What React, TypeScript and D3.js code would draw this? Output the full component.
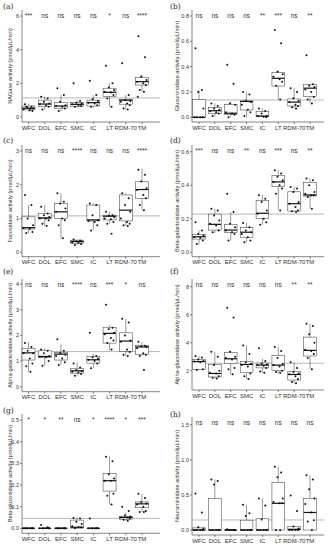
import React from 'react';
import * as d3 from 'd3';

const cats = ['WFC', 'DOL', 'EFC', 'SMC', 'IC', 'LT', 'RDM-70', 'TM'];

// box stats per category: [lowWhisker, q1, median, q3, highWhisker]
const nagaseBox = [[0.32, 0.42, 0.52, 0.65, 0.8], [0.42, 0.61, 0.77, 1.0, 1.2], [0.32, 0.52, 0.65, 0.87, 1.3], [0.55, 0.61, 0.75, 0.87, 1.0], [0.55, 0.65, 0.85, 1.0, 1.3], [0.61, 1.21, 1.47, 1.71, 2.0], [0.42, 0.76, 1.0, 1.05, 1.3], [1.5, 1.9, 2.1, 2.36, 2.5]];
const nagasePts = [[0.75, 0.6, 0.55, 0.5, 0.45, 0.4, 0.35, 0.6, 0.5], [1.2, 1.1, 0.9, 0.8, 0.75, 0.7, 0.6, 0.45], [1.7, 1.3, 0.9, 0.7, 0.65, 0.6, 0.5, 0.35], [2.0, 0.95, 0.85, 0.8, 0.75, 0.7, 0.65, 0.6], [2.15, 1.3, 1.05, 0.95, 0.85, 0.8, 0.7, 0.6], [3.05, 2.0, 1.75, 1.6, 1.5, 1.45, 1.3, 1.1, 0.6], [3.2, 1.3, 1.0, 0.95, 0.9, 0.8, 0.7, 0.5, 0.45], [4.8, 3.55, 2.4, 2.2, 2.1, 2.0, 1.9, 1.6, 1.5, 1.2]];
const nagaseSig = ['***', 'ns', 'ns', 'ns', 'ns', '*', 'ns', '****'];

const glucBox = [[0, 0, 0, 0.14, 0.215], [0.005, 0.032, 0.052, 0.079, 0.11], [0, 0.024, 0.032, 0.103, 0.125], [0, 0.058, 0.125, 0.129, 0.2], [0, 0.005, 0.01, 0.044, 0.07], [0.137, 0.247, 0.308, 0.352, 0.37], [0.07, 0.089, 0.12, 0.145, 0.23], [0.11, 0.163, 0.23, 0.26, 0.265]];
const glucPts = [[0.545, 0.215, 0.2, 0.07, 0, 0, 0, 0], [0.11, 0.09, 0.07, 0.06, 0.05, 0.04, 0.03, 0.01], [0.415, 0.265, 0.11, 0.1, 0.04, 0.03, 0.02, 0], [0.2, 0.18, 0.13, 0.12, 0.1, 0.06, 0.04, 0.01], [0.07, 0.05, 0.03, 0.01, 0.01, 0.005, 0], [0.69, 0.585, 0.36, 0.34, 0.32, 0.3, 0.28, 0.25, 0.14], [0.23, 0.2, 0.15, 0.13, 0.12, 0.1, 0.09, 0.08, 0.07], [0.49, 0.26, 0.25, 0.24, 0.22, 0.2, 0.16, 0.14, 0.11]];
const glucSig = ['ns', 'ns', 'ns', 'ns', '**', '***', 'ns', '**'];

const fucBox = [[0.56, 0.69, 0.73, 1.05, 1.4], [0.78, 1.0, 1.02, 1.15, 1.4], [0.41, 1.0, 1.2, 1.45, 1.75], [0.22, 0.27, 0.32, 0.36, 0.38], [0.66, 0.93, 0.96, 1.4, 1.45], [0.85, 0.96, 1.07, 1.1, 1.2], [0.78, 0.93, 1.25, 1.7, 1.75], [1.25, 1.6, 1.86, 2.09, 2.48]];
const fucPts = [[1.7, 1.4, 1.0, 0.8, 0.72, 0.7, 0.6, 0.57], [1.35, 1.15, 1.1, 1.05, 1.0, 1.0, 0.95, 0.85, 0.78], [1.75, 1.5, 1.45, 1.3, 1.2, 1.0, 0.95, 0.8, 0.42], [0.38, 0.35, 0.33, 0.32, 0.3, 0.28, 0.25, 0.22], [1.45, 1.4, 1.1, 0.95, 0.93, 0.9, 0.8, 0.65], [1.2, 1.1, 1.08, 1.05, 1.0, 0.98, 0.9, 0.85, 0.55], [1.75, 1.6, 1.4, 1.2, 1.0, 0.9, 0.85, 0.8, 0.78], [2.45, 2.3, 2.1, 1.9, 1.85, 1.7, 1.6, 1.4, 1.25]];
const fucSig = ['ns', 'ns', 'ns', '****', 'ns', 'ns', 'ns', '****'];

const bgalBox = [[0.045, 0.079, 0.093, 0.107, 0.13], [0.115, 0.133, 0.167, 0.228, 0.26], [0.07, 0.117, 0.133, 0.167, 0.24], [0.06, 0.09, 0.12, 0.147, 0.175], [0.165, 0.203, 0.233, 0.308, 0.342], [0.252, 0.391, 0.42, 0.457, 0.49], [0.24, 0.246, 0.29, 0.361, 0.39], [0.26, 0.336, 0.342, 0.417, 0.44]];
const bgalPts = [[0.18, 0.13, 0.11, 0.1, 0.09, 0.085, 0.07, 0.05], [0.26, 0.25, 0.22, 0.19, 0.17, 0.16, 0.13, 0.12], [0.35, 0.24, 0.17, 0.15, 0.13, 0.12, 0.11, 0.07], [0.175, 0.15, 0.13, 0.12, 0.11, 0.09, 0.07, 0.06], [0.34, 0.32, 0.3, 0.25, 0.23, 0.2, 0.18, 0.165], [0.49, 0.47, 0.45, 0.43, 0.42, 0.4, 0.38, 0.35, 0.25], [0.39, 0.38, 0.36, 0.3, 0.29, 0.27, 0.25, 0.245, 0.24], [0.44, 0.43, 0.4, 0.36, 0.35, 0.34, 0.34, 0.33, 0.26]];
const bgalSig = ['***', 'ns', 'ns', '**', 'ns', '***', 'ns', '**'];

const agalBox = [[0.58, 1.04, 1.32, 1.5, 1.75], [0.82, 1.13, 1.18, 1.4, 1.5], [0.85, 1.04, 1.27, 1.33, 1.65], [0.43, 0.53, 0.62, 0.72, 0.95], [0.72, 0.92, 1.05, 1.17, 1.27], [1.42, 1.7, 2.08, 2.32, 2.4], [1.2, 1.38, 1.78, 2.1, 2.65], [1.2, 1.25, 1.55, 1.6, 1.75]];
const agalPts = [[1.7, 1.55, 1.4, 1.3, 1.3, 1.1, 0.9, 0.8, 0.58], [1.45, 1.4, 1.3, 1.2, 1.17, 1.15, 1.0, 0.82], [1.85, 1.4, 1.3, 1.25, 1.2, 1.1, 0.95, 0.85], [0.9, 0.75, 0.65, 0.6, 0.58, 0.55, 0.5, 0.43], [2.1, 1.2, 1.15, 1.1, 1.05, 1.0, 0.9, 0.72], [3.2, 2.3, 2.25, 2.1, 2.05, 1.9, 1.8, 1.7, 1.45], [2.65, 2.5, 2.0, 1.8, 1.75, 1.45, 1.35, 1.25, 1.2], [1.75, 1.6, 1.58, 1.55, 1.5, 1.3, 1.25, 1.2, 0.65]];
const agalSig = ['ns', 'ns', 'ns', '****', 'ns', '***', '*', 'ns'];

const aglucBox = [[2.05, 2.1, 2.65, 2.8, 3.05], [1.45, 1.55, 1.8, 2.45, 3.35], [1.7, 2.5, 2.85, 3.3, 3.4], [1.4, 1.86, 2.45, 2.67, 3.8], [1.85, 2.2, 2.4, 2.55, 2.85], [1.8, 2.0, 2.4, 3.1, 3.7], [1.1, 1.33, 1.73, 1.95, 2.6], [2.1, 3.05, 3.45, 4.4, 5.35]];
const aglucPts = [[3.05, 2.95, 2.8, 2.7, 2.65, 2.6, 2.1, 2.05], [3.35, 3.0, 2.4, 2.0, 1.85, 1.8, 1.6, 1.5, 1.45], [6.5, 5.8, 3.35, 3.0, 2.9, 2.8, 2.2, 2.1, 1.75], [3.8, 3.2, 2.6, 2.5, 2.4, 2.3, 1.8, 1.6, 1.4], [3.6, 2.7, 2.5, 2.45, 2.4, 2.35, 2.2, 1.95, 1.85], [3.7, 3.4, 2.9, 2.5, 2.4, 2.3, 2.0, 1.9, 1.85], [2.6, 2.2, 1.9, 1.8, 1.75, 1.6, 1.4, 1.2, 1.1], [5.35, 5.2, 4.6, 4.0, 3.5, 3.4, 3.2, 2.9, 2.1]];
const aglucSig = ['ns', 'ns', 'ns', 'ns', 'ns', 'ns', '**', '**'];

const bglucBox = [[0, 0, 0, 0, 0], [0, 0, 0, 0, 0], [0, 0, 0, 0, 0], [0, 0.001, 0.005, 0.038, 0.048], [0, 0, 0, 0, 0], [0.11, 0.172, 0.22, 0.253, 0.332], [0.035, 0.042, 0.05, 0.055, 0.07], [0.075, 0.095, 0.113, 0.122, 0.16]];
const bglucPts = [[0, 0, 0, 0, 0, 0, 0, 0], [0.015, 0.005, 0, 0, 0, 0, 0, 0], [0, 0, 0, 0, 0, 0, 0, 0], [0.048, 0.045, 0.03, 0.02, 0.01, 0.005, 0.005, 0], [0.045, 0, 0, 0, 0, 0, 0, 0], [0.33, 0.31, 0.25, 0.23, 0.22, 0.22, 0.16, 0.15, 0.11], [0.1, 0.08, 0.06, 0.055, 0.05, 0.05, 0.045, 0.04, 0.035], [0.16, 0.14, 0.12, 0.115, 0.11, 0.1, 0.08, 0.075, 0.075]];
const bglucSig = ['*', '*', '**', 'ns', '*', '****', '*', '***'];

const neuBox = [[0, 0, 0, 0.03, 0.05], [0, 0, 0, 0.45, 0.72], [0, 0, 0, 0, 0.01], [0, 0, 0, 0.14, 0.36], [0, 0, 0, 0.16, 0.45], [0, 0, 0.38, 0.68, 0.9], [0, 0, 0.01, 0.05, 0.06], [0, 0, 0.25, 0.45, 0.78]];
const neuPts = [[0.52, 0.25, 0.04, 0.02, 0, 0, 0, 0], [0.72, 0.7, 0.65, 0, 0, 0, 0, 0], [0.01, 0, 0, 0, 0, 0, 0, 0], [0.36, 0.24, 0.2, 0, 0, 0, 0, 0], [0.45, 0.35, 0.15, 0, 0, 0, 0, 0], [0.9, 0.82, 0.75, 0.45, 0.4, 0.38, 0.38, 0, 0], [0.49, 0.27, 0.05, 0.02, 0, 0, 0, 0], [0.78, 0.72, 0.58, 0.45, 0.37, 0.25, 0.14, 0.12, 0]];
const neuSig = ['ns', 'ns', 'ns', 'ns', 'ns', 'ns', 'ns', 'ns'];

// fixed jitter pattern (fraction of category step)
const jitter = [-0.22, 0.18, -0.05, 0.28, -0.3, 0.08, 0.24, -0.14, 0.12, -0.26];

const LEFT = { axisX: 22, x0: 28.5, x1: 142, right: 160, titleX: 12, labelX: 3 };
const RIGHT = { axisX: 192, x0: 199, x1: 310, right: 324, titleX: 179, labelX: 170 };

const panels = [
  { id: '(a)', col: LEFT, top: 10, bottom: 122, domain: [-0.3, 6.36], ticks: [0, 2, 4, 6], fmt: '0', hline: 1.13, title: 'NAGase activity (pmol/µL/min)', box: nagaseBox, pts: nagasePts, sig: nagaseSig, labelY: 9 },
  { id: '(b)', col: RIGHT, top: 10, bottom: 122, domain: [-0.037, 0.847], ticks: [0, 0.2, 0.4, 0.6, 0.8], fmt: '.1f', hline: 0.137, title: 'Glucuronidase activity (pmol/µL/min)', box: glucBox, pts: glucPts, sig: glucSig, labelY: 9 },
  { id: '(c)', col: LEFT, top: 145, bottom: 256.7, domain: [-0.13, 3.18], ticks: [0, 1, 2, 3], fmt: '0', hline: 1.08, title: 'Fucosidase activity (pmol/µL/min)', box: fucBox, pts: fucPts, sig: fucSig, labelY: 143 },
  { id: '(d)', col: RIGHT, top: 145, bottom: 256.7, domain: [-0.026, 0.64], ticks: [0, 0.2, 0.4, 0.6], fmt: '.1f', hline: 0.228, title: 'Beta-galactosidase activity (pmol/µL/min)', box: bgalBox, pts: bgalPts, sig: bgalSig, labelY: 143 },
  { id: '(e)', col: LEFT, top: 279, bottom: 391.7, domain: [-0.195, 4.2], ticks: [0, 1, 2, 3, 4], fmt: '0', hline: 1.37, title: 'Alpha-galactosidase activity (pmol/µL/min)', box: agalBox, pts: agalPts, sig: agalSig, labelY: 274 },
  { id: '(f)', col: RIGHT, top: 279, bottom: 390, domain: [0.62, 8.55], ticks: [2, 4, 6, 8], fmt: '0', hline: 2.53, title: 'Alpha-glucosidase activity (pmol/µL/min)', box: aglucBox, pts: aglucPts, sig: aglucSig, labelY: 274 },
  { id: '(g)', col: LEFT, top: 414, bottom: 533.3, domain: [-0.023, 0.528], ticks: [0, 0.1, 0.2, 0.3, 0.4, 0.5], fmt: '.1f', hline: 0.046, title: 'Beta-glucosidase activity (pmol/µL/min)', box: bglucBox, pts: bglucPts, sig: bglucSig, labelY: 413 },
  { id: '(h)', col: RIGHT, top: 417, bottom: 535, domain: [-0.071, 1.61], ticks: [0, 0.5, 1.0, 1.5], fmt: '.1f', hline: 0.143, title: 'Neuraminidase activity (pmol/µL/min)', box: neuBox, pts: neuPts, sig: neuSig, labelY: 417 },
];

const ink = '#333';

function Panel({ p }: { p: any }) {
  const c = p.col;
  const x = d3.scalePoint<string>().domain(cats).range([c.x0, c.x1]);
  const y = d3.scaleLinear().domain(p.domain).range([p.bottom, p.top]);
  const step = x.step();
  const bw = step * 0.8;
  const fmt = d3.format(p.fmt);
  const midY = (p.top + p.bottom) / 2;

  return (
    <g>
      <text x={c.labelX} y={p.labelY} fontSize={7.5} fontFamily="DejaVu Serif, serif" fill="#222">{p.id}</text>
      {/* axes */}
      <line x1={c.axisX} x2={c.axisX} y1={p.top} y2={p.bottom} stroke={ink} strokeWidth={0.6} />
      <line x1={c.axisX} x2={c.right} y1={p.bottom} y2={p.bottom} stroke={ink} strokeWidth={0.6} />
      {p.ticks.map((t: number) => (
        <g key={t}>
          <line x1={c.axisX - 2} x2={c.axisX} y1={y(t)} y2={y(t)} stroke={ink} strokeWidth={0.6} />
          <text x={c.axisX - 3} y={y(t)} dy="0.35em" textAnchor="end" fontSize={5.5} fill={ink}>{fmt(t)}</text>
        </g>
      ))}
      {cats.map((k) => (
        <g key={k}>
          <line x1={x(k)} x2={x(k)} y1={p.bottom} y2={p.bottom + 2} stroke={ink} strokeWidth={0.6} />
          <text x={x(k)} y={p.bottom + 7.5} textAnchor="middle" fontSize={6} fill={ink}>{k}</text>
        </g>
      ))}
      <text transform={`translate(${c.titleX},${midY}) rotate(-90)`} textAnchor="middle" fontSize={5.6} fill={ink}>{p.title}</text>
      {/* reference line */}
      <line x1={c.axisX} x2={c.right} y1={y(p.hline)} y2={y(p.hline)} stroke="#888" strokeWidth={0.6} />
      {/* boxes */}
      {cats.map((k, i) => {
        const [lo, q1, med, q3, hi] = p.box[i];
        const cx = x(k) as number;
        return (
          <g key={k}>
            <line x1={cx} x2={cx} y1={y(hi)} y2={y(q3)} stroke={ink} strokeWidth={0.5} />
            <line x1={cx} x2={cx} y1={y(q1)} y2={y(lo)} stroke={ink} strokeWidth={0.5} />
            <rect x={cx - bw / 2} y={y(q3)} width={bw} height={Math.max(0, y(q1) - y(q3))} fill="white" stroke={ink} strokeWidth={0.5} />
            <line x1={cx - bw / 2} x2={cx + bw / 2} y1={y(med)} y2={y(med)} stroke="#111" strokeWidth={1.2} />
            {p.pts[i].map((v: number, j: number) => (
              <circle key={j} cx={cx + jitter[j % jitter.length] * step} cy={y(v)} r={1} fill="#111" />
            ))}
            <text x={cx} y={p.top + 7.5} textAnchor="middle" fontSize={6.5} fill="#333">{p.sig[i]}</text>
          </g>
        );
      })}
    </g>
  );
}

export default function App() {
  return (
    <svg width={334} height={550} style={{ display: 'block', position: 'absolute', left: 0, top: 0, background: 'white' }} fontFamily="Liberation Sans, Arial, sans-serif">
      <rect width={334} height={550} fill="white" />
      {panels.map((p) => (
        <Panel key={p.id} p={p} />
      ))}
    </svg>
  );
}
